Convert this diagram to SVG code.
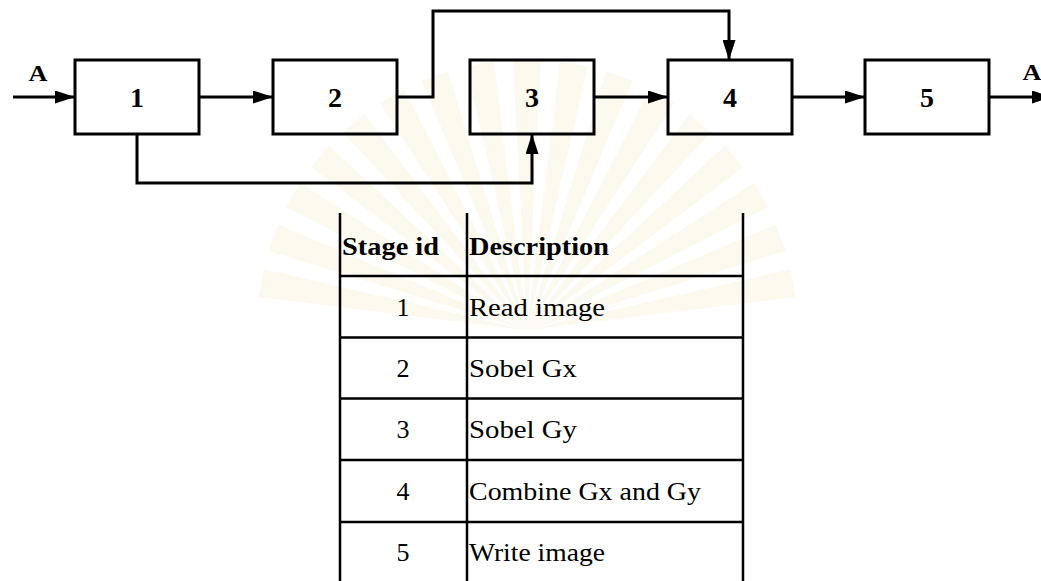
<svg xmlns="http://www.w3.org/2000/svg" xmlns:xlink="http://www.w3.org/1999/xlink" width="1041" height="581" viewBox="0 0 1041 581">
  <style>
    .box { fill: none; stroke: #000; stroke-width: 3; }
    .wire { fill: none; stroke: #000; stroke-width: 3; }
    .grid { fill: none; stroke: #000; stroke-width: 2.5; }
    .ray { fill: #f7eccb; }
  </style>
  <defs>
    <marker id="head" markerUnits="userSpaceOnUse" markerWidth="21" markerHeight="13" refX="20" refY="6.5" orient="auto">
      <path d="M0,0 L20,6.5 L0,13 z" fill="#000"/>
    </marker>
    <polygon id="wedge" points="0,0 -14,-270 14,-270"/>
  </defs>

  <rect width="1041" height="581" fill="#fff"/>

  <!-- pale background seal -->
  <g id="seal" class="ray" opacity="0.3" transform="translate(527,330)">
    <use xlink:href="#wedge" transform="rotate(-80)"/>
    <use xlink:href="#wedge" transform="rotate(-70)"/>
    <use xlink:href="#wedge" transform="rotate(-60)"/>
    <use xlink:href="#wedge" transform="rotate(-50)"/>
    <use xlink:href="#wedge" transform="rotate(-40)"/>
    <use xlink:href="#wedge" transform="rotate(-30)"/>
    <use xlink:href="#wedge" transform="rotate(-20)"/>
    <use xlink:href="#wedge" transform="rotate(-10)"/>
    <use xlink:href="#wedge" transform="rotate(0)"/>
    <use xlink:href="#wedge" transform="rotate(10)"/>
    <use xlink:href="#wedge" transform="rotate(20)"/>
    <use xlink:href="#wedge" transform="rotate(30)"/>
    <use xlink:href="#wedge" transform="rotate(40)"/>
    <use xlink:href="#wedge" transform="rotate(50)"/>
    <use xlink:href="#wedge" transform="rotate(60)"/>
    <use xlink:href="#wedge" transform="rotate(70)"/>
    <use xlink:href="#wedge" transform="rotate(80)"/>
  </g>

  <!-- pipeline connectors -->
  <g id="connectors">
    <path class="wire" d="M13,97 H75" marker-end="url(#head)"/>
    <path class="wire" d="M199,97 H273" marker-end="url(#head)"/>
    <path class="wire" d="M397,97 H433 V11 H729 V60" marker-end="url(#head)"/>
    <path class="wire" d="M137,134 V183 H532 V134" marker-end="url(#head)"/>
    <path class="wire" d="M594,97 H668" marker-end="url(#head)"/>
    <path class="wire" d="M792,97 H865" marker-end="url(#head)"/>
    <path class="wire" d="M989,97 H1052" marker-end="url(#head)"/>
    <g font-family="Liberation Serif, serif" font-weight="bold" font-size="23" text-anchor="middle">
      <text x="38" y="81" textLength="19" lengthAdjust="spacingAndGlyphs">A</text>
      <text x="1032" y="80" textLength="19" lengthAdjust="spacingAndGlyphs">A</text>
    </g>
  </g>

  <!-- pipeline stages -->
  <g font-family="Liberation Serif, serif" font-weight="bold" font-size="28" text-anchor="middle">
    <g id="stage1"><rect class="box" x="75" y="60" width="124" height="74"/><text x="137" y="107">1</text></g>
    <g id="stage2"><rect class="box" x="273" y="60" width="124" height="74"/><text x="335" y="107">2</text></g>
    <g id="stage3"><rect class="box" x="470" y="60" width="124" height="74"/><text x="532" y="107">3</text></g>
    <g id="stage4"><rect class="box" x="668" y="60" width="124" height="74"/><text x="730" y="107">4</text></g>
    <g id="stage5"><rect class="box" x="865" y="60" width="124" height="74"/><text x="927" y="107">5</text></g>
  </g>

  <!-- stage table -->
  <g id="stage-table" font-family="Liberation Serif, serif" font-size="26">
    <path class="grid" d="M340,213 V590 M467,213 V590 M743,213 V590 M340,276 H743 M340,337.5 H743 M340,398.5 H743 M340,460 H743 M340,522 H743"/>
    <g font-weight="bold">
      <text x="342" y="255" textLength="97" lengthAdjust="spacingAndGlyphs">Stage id</text>
      <text x="469" y="255" textLength="140" lengthAdjust="spacingAndGlyphs">Description</text>
    </g>
    <g text-anchor="middle">
      <text x="403" y="316">1</text>
      <text x="403" y="377">2</text>
      <text x="403" y="438">3</text>
      <text x="403" y="500">4</text>
      <text x="403" y="561">5</text>
    </g>
    <text x="469" y="316" textLength="136" lengthAdjust="spacingAndGlyphs">Read image</text>
    <text x="469" y="377" textLength="108" lengthAdjust="spacingAndGlyphs">Sobel Gx</text>
    <text x="469" y="438" textLength="108" lengthAdjust="spacingAndGlyphs">Sobel Gy</text>
    <text x="469" y="500" textLength="232" lengthAdjust="spacingAndGlyphs">Combine Gx and Gy</text>
    <text x="469" y="561" textLength="136" lengthAdjust="spacingAndGlyphs">Write image</text>
  </g>
</svg>
